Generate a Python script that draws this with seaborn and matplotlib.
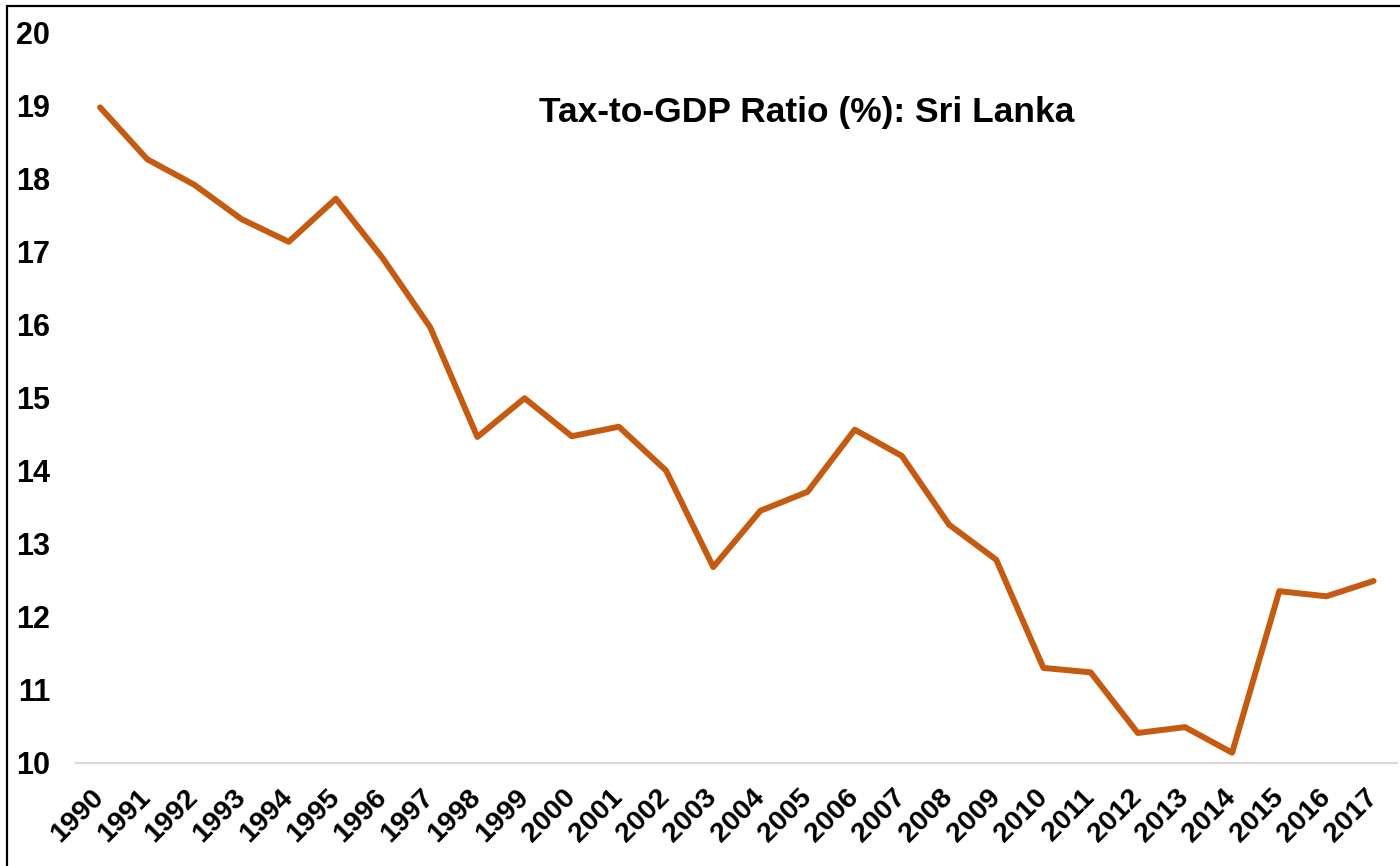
import matplotlib
matplotlib.use("Agg")
import matplotlib.pyplot as plt
import seaborn as sns
import pandas as pd
from matplotlib.lines import Line2D

# Tax revenue as a share of GDP, Sri Lanka
years = [str(y) for y in range(1990, 2018)]
tax_to_gdp = [18.97, 18.26, 17.91, 17.44, 17.13, 17.72, 16.90, 15.96,
              14.46, 14.99, 14.47, 14.60, 14.00, 12.68, 13.45, 13.71,
              14.56, 14.20, 13.26, 12.78, 11.30, 11.24, 10.41, 10.49,
              10.14, 12.35, 12.28, 12.49]
title = "Tax-to-GDP Ratio (%): Sri Lanka"
y_ticks = list(range(10, 21))

df = pd.DataFrame({"year": years, "ratio": tax_to_gdp})

sns.set_theme(style="white")
plt.rcParams["font.family"] = ["Liberation Sans", "DejaVu Sans"]

fig = plt.figure(figsize=(14, 8.66), dpi=100)
ax = fig.add_axes([0.0546, 0.119, 0.9434, 0.844])

sns.lineplot(data=df, x="year", y="ratio", ax=ax, color="#C55A11",
             linewidth=4.3, sort=False)

ax.set_xlim(-0.5, len(years) - 0.5)
ax.set_ylim(10, 20)
ax.set_yticks(y_ticks)
ax.set_yticklabels([str(t) for t in y_ticks], fontsize=22, fontweight="bold",
                   color="black")
ax.set_xticks(range(len(years)))
ax.set_xticklabels(years, fontsize=20.5, fontweight="bold", rotation=45,
                   ha="right", va="center", rotation_mode="anchor",
                   color="black")
ax.tick_params(axis="y", length=0, pad=19)
ax.tick_params(axis="x", length=0, pad=22)
ax.set_xlabel("")
ax.set_ylabel("")

for side in ("top", "right", "left"):
    ax.spines[side].set_visible(False)
ax.spines["bottom"].set_color("#d9d9d9")
ax.spines["bottom"].set_linewidth(1.5)

ax.text(0.576, 0.870, title, transform=fig.transFigure, ha="center",
        va="center", fontsize=25.5, fontweight="bold", color="black")

# outer frame (top and left edges)
fig.add_artist(Line2D([0.005, 0.005], [0.0, 0.993], transform=fig.transFigure,
                      color="black", linewidth=1.6))
fig.add_artist(Line2D([0.005, 1.0], [0.993, 0.993], transform=fig.transFigure,
                      color="black", linewidth=1.6))

fig.savefig("out.png", dpi=100, facecolor="white")
